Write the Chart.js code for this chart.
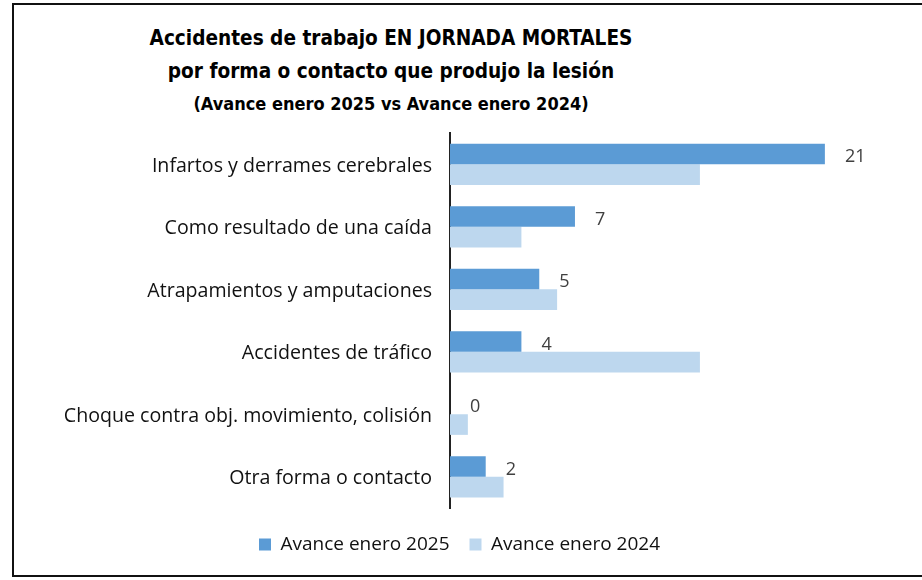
<!DOCTYPE html>
<html>
<head>
<meta charset="utf-8">
<script src="https://cdn.jsdelivr.net/npm/chart.js@4/dist/chart.umd.min.js"></script>
<style>
  html, body { margin: 0; padding: 0; background: #fff; }
  #wrap { position: relative; width: 922px; height: 580px; overflow: hidden; }
  #frame { position: absolute; left: 12px; top: 3px; width: 960px; height: 574px; border: 2px solid #111; box-sizing: border-box; }
  #titulo { position: absolute; left: 91px; width: 600px; top: 22px; text-align: center;
    font-family: "Liberation Sans Narrow", "DejaVu Sans Condensed", sans-serif; font-weight: bold; color: #000; }
  #titulo .l1 { font-size: 20.6px; line-height: 33px; white-space: nowrap; }
  #titulo .l3 { font-size: 18px; line-height: 31px; white-space: nowrap; }
  canvas { position: absolute; left: 0; top: 0; }
</style>
</head>
<body>
<div id="wrap">
  <div id="frame"></div>
  <div id="titulo">
    <div class="l1">Accidentes de trabajo EN JORNADA MORTALES</div>
    <div class="l1">por forma o contacto que produjo la lesión</div>
    <div class="l3">(Avance enero 2025 vs Avance enero 2024)</div>
  </div>
  <canvas id="grafico" width="922" height="580"></canvas>
</div>
<script>
// datos
const categorias = [
  'Infartos y derrames cerebrales',
  'Como resultado de una caída',
  'Atrapamientos y amputaciones',
  'Accidentes de tráfico',
  'Choque contra obj. movimiento, colisión',
  'Otra forma o contacto'
];
const avance2025 = [21, 7, 5, 4, 0, 2];
const avance2024 = [14, 4, 6, 14, 1, 3];

const fuente = '"Open Sans", sans-serif';

// etiquetas de valor solo para 2025
const etiquetasValor = {
  id: 'etiquetasValor',
  afterDatasetsDraw(chart) {
    const ctx = chart.ctx;
    const meta = chart.getDatasetMeta(0);
    ctx.save();
    ctx.font = '18px ' + fuente;
    ctx.fillStyle = '#404040';
    ctx.textAlign = 'left';
    ctx.textBaseline = 'middle';
    meta.data.forEach((bar, i) => {
      ctx.fillText(String(avance2025[i]), bar.x + 20, bar.y + 3);
    });
    ctx.restore();
  }
};

new Chart(document.getElementById('grafico'), {
  type: 'bar',
  data: {
    labels: categorias,
    datasets: [
      { label: 'Avance enero 2025', data: avance2025, backgroundColor: '#5B9BD5' },
      { label: 'Avance enero 2024', data: avance2024, backgroundColor: '#BDD7EE' }
    ]
  },
  options: {
    indexAxis: 'y',
    responsive: false,
    animation: false,
    layout: { padding: { left: 12, right: 15, top: 133, bottom: 16 } },
    datasets: { bar: { barPercentage: 1, categoryPercentage: 0.66 } },
    scales: {
      x: {
        min: 0, max: 25.6,
        display: false
      },
      y: {
        afterFit(scale) { scale.width = 438; },
        grid: { display: false, drawTicks: false },
        border: { display: true, color: '#222', width: 2 },
        ticks: { padding: 18, labelOffset: 2, color: '#111', font: { family: fuente, size: 19.6 } }
      }
    },
    plugins: {
      legend: {
        position: 'bottom',
        // título vacío solo para separar la leyenda del eje
        title: { display: true, text: '', font: { size: 0 }, padding: { top: 0, bottom: 7 } },
        labels: { boxWidth: 12, boxHeight: 12, padding: 20, color: '#111', font: { family: fuente, size: 19 } }
      },
      tooltip: { enabled: false }
    }
  },
  plugins: [etiquetasValor]
});
</script>
</body>
</html>
